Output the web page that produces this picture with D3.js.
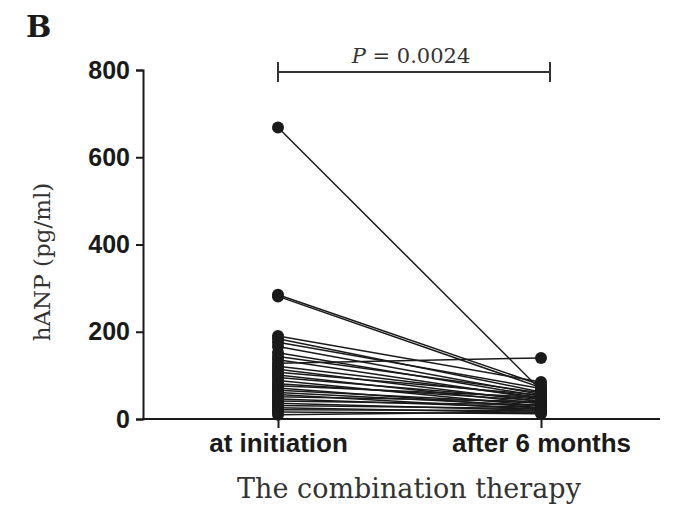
<!DOCTYPE html>
<html>
<head>
<meta charset="utf-8">
<script src="https://cdn.jsdelivr.net/npm/d3@7"></script>
<style>
  body { margin: 0; background: #fff; }
  svg { display: block; }
</style>
</head>
<body>
<svg width="684" height="506"></svg>
<script>
// Paired hANP values per patient (pg/ml)
const groups = ["at initiation", "after 6 months"];
const initiation = [668, 285, 281, 190, 184, 176, 166, 152, 143, 136, 128, 121, 114, 107, 101, 95, 88, 81, 76, 71, 66, 61, 56, 51, 46, 41, 36, 31, 26, 21, 16, 10];
const sixMonths  = [66, 78, 72, 85, 62, 70, 56, 52, 60, 46, 140, 50, 40, 55, 35, 45, 30, 42, 50, 26, 36, 30, 22, 40, 26, 32, 20, 24, 15, 19, 12, 16];
const yTicks = [0, 200, 400, 600, 800];
const pLabel = "0.0024";

const svg = d3.select("svg");
const margin = { top: 70, left: 143, bottom: 419, right: 660 };

const x = d3.scalePoint().domain(groups).range([278, 541]);
const y = d3.scaleLinear().domain([0, 800]).range([margin.bottom, margin.top]);

const ink = "#1a1a1a";

// paired lines
const pairs = initiation.map((v, i) => [v, sixMonths[i]]);
svg.append("g")
  .selectAll("line")
  .data(pairs)
  .join("line")
  .attr("x1", x(groups[0]))
  .attr("x2", x(groups[1]))
  .attr("y1", d => y(d[0]))
  .attr("y2", d => y(d[1]))
  .attr("stroke", ink)
  .attr("stroke-width", 1.5);

// dots
groups.forEach((gname, gi) => {
  svg.append("g")
    .selectAll("circle")
    .data(pairs)
    .join("circle")
    .attr("cx", x(gname))
    .attr("cy", d => y(d[gi]))
    .attr("r", 6)
    .attr("fill", ink);
});

// y axis
const yAxis = svg.append("g")
  .attr("transform", `translate(${margin.left},0)`)
  .call(d3.axisLeft(y).tickValues(yTicks).tickSize(7).tickPadding(6));
yAxis.select(".domain").attr("stroke", ink).attr("stroke-width", 2);
yAxis.selectAll(".tick line").attr("stroke", ink).attr("stroke-width", 2);
yAxis.selectAll("text")
  .attr("font-family", "Liberation Sans, Arial, sans-serif")
  .attr("font-weight", "bold")
  .attr("font-size", 25)
  .attr("fill", ink);

// x axis
const xAxis = svg.append("g")
  .attr("transform", `translate(0,${margin.bottom})`)
  .call(d3.axisBottom(x).tickSize(9).tickPadding(6));
xAxis.select(".domain").remove();
xAxis.append("line")
  .attr("x1", margin.left - 1).attr("x2", margin.right)
  .attr("stroke", ink).attr("stroke-width", 2);
xAxis.selectAll(".tick line").attr("stroke", ink).attr("stroke-width", 2);
xAxis.selectAll("text")
  .attr("font-family", "Liberation Sans, Arial, sans-serif")
  .attr("font-weight", "bold")
  .attr("font-size", 26)
  .attr("fill", ink);

// axis titles
svg.append("text")
  .attr("transform", "translate(50,262) rotate(-90)")
  .attr("text-anchor", "middle")
  .attr("font-family", "DejaVu Serif, serif")
  .attr("font-size", 23)
  .attr("fill", "#333")
  .text("hANP (pg/ml)");

svg.append("text")
  .attr("x", 409).attr("y", 498)
  .attr("text-anchor", "middle")
  .attr("font-family", "DejaVu Serif, serif")
  .attr("font-size", 27)
  .attr("fill", "#333")
  .text("The combination therapy");

// panel letter
svg.append("text")
  .attr("x", 26).attr("y", 37)
  .attr("font-family", "DejaVu Serif, serif")
  .attr("font-weight", "bold")
  .attr("font-size", 30)
  .attr("fill", ink)
  .text("B");

// significance bracket
const by = 72, bx1 = 278, bx2 = 550;
const br = svg.append("g").attr("stroke", "#333").attr("stroke-width", 2);
br.append("line").attr("x1", bx1).attr("x2", bx2).attr("y1", by).attr("y2", by);
br.append("line").attr("x1", bx1).attr("x2", bx1).attr("y1", by - 10).attr("y2", by + 10);
br.append("line").attr("x1", bx2).attr("x2", bx2).attr("y1", by - 10).attr("y2", by + 10);

const pt = svg.append("text")
  .attr("x", 411).attr("y", 63)
  .attr("text-anchor", "middle")
  .attr("font-family", "DejaVu Serif, serif")
  .attr("font-size", 21)
  .attr("fill", "#333");
pt.append("tspan").attr("font-style", "italic").text("P");
pt.append("tspan").text(" = " + pLabel);
</script>
</body>
</html>
